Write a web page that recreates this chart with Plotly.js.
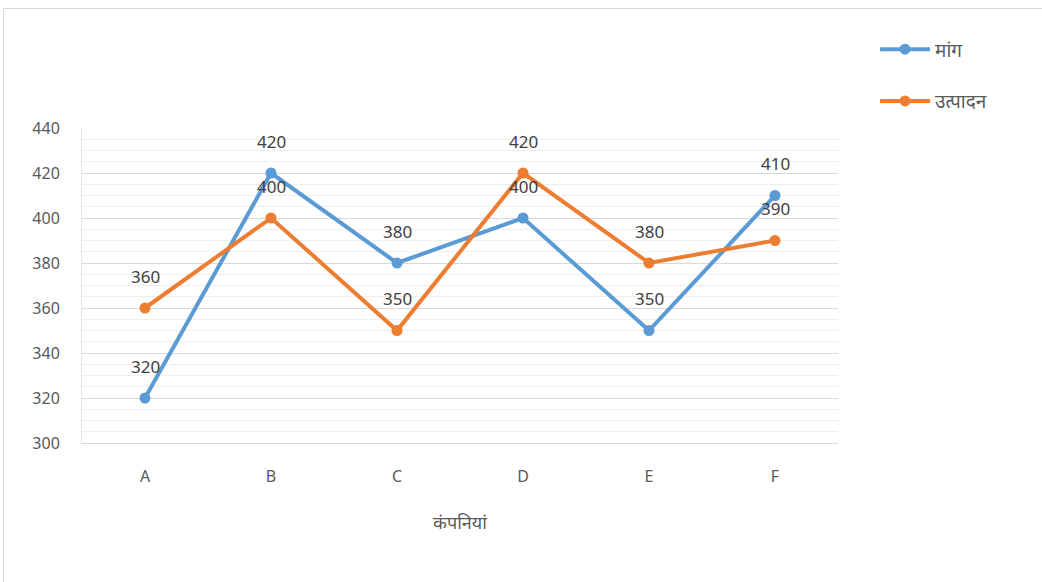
<!DOCTYPE html>
<html><head><meta charset="utf-8">
<script src="https://cdn.plot.ly/plotly-3.0.1.min.js"></script>
<style>
body{margin:0;padding:0;background:#fff;}
#frame{position:absolute;left:3px;top:8px;width:1045px;height:580px;border:1px solid #d9d9d9;box-sizing:border-box;}
#chart{position:absolute;left:0;top:0;width:1042px;height:582px;}
</style></head>
<body>
<div id="frame"></div>
<div id="chart"></div>
<script>
const categories = ['A','B','C','D','E','F'];
const demand = [320, 420, 380, 400, 350, 410];      // मांग
const production = [360, 400, 350, 420, 380, 390];  // उत्पादन
const seriesNames = ['मांग', 'उत्पादन'];
const yTicks = [300, 320, 340, 360, 380, 400, 420, 440];

const font = '"Noto Sans", "Noto Sans Devanagari", "Open Sans", sans-serif';
const blue = '#5B9BD5', orange = '#ED7D31';

const traces = [
  {x: categories, y: demand, name: seriesNames[0], type: 'scatter', mode: 'lines+markers',
   line: {color: blue, width: 4}, marker: {color: blue, size: 11}, legendgroup: 'a'},
  {x: categories, y: production, name: seriesNames[1], type: 'scatter', mode: 'lines+markers',
   line: {color: orange, width: 4}, marker: {color: orange, size: 11}, legendgroup: 'b'}
];

const annotations = [];
[demand, production].forEach(arr => {
  arr.forEach((v, i) => {
    annotations.push({x: categories[i], y: v, text: String(v), showarrow: false,
      yshift: 32, font: {family: font, size: 17, color: '#404040'}});
  });
});

const layout = {
  width: 1042, height: 582,
  margin: {l: 82, r: 204, t: 128, b: 139},
  paper_bgcolor: 'rgba(0,0,0,0)', plot_bgcolor: 'rgba(0,0,0,0)',
  font: {family: font, color: '#595959', size: 16},
  showlegend: true,
  legend: {x: 1.049, y: 1.31, xanchor: 'left', yanchor: 'top', traceorder: 'grouped',
    tracegroupgap: 24, itemwidth: 50, font: {family: font, size: 19, color: '#595959'},
    bgcolor: 'rgba(0,0,0,0)'},
  xaxis: {type: 'category', range: [-0.5, 5.5], showgrid: false, zeroline: false,
    showline: true, linecolor: '#d9d9d9', linewidth: 1, ticks: '', ticklabelstandoff: 19,
    fixedrange: true,
    title: {text: 'कंपनियां', standoff: 30, font: {family: font, size: 18, color: '#595959'}}},
  yaxis: {range: [300, 440], tickvals: yTicks, ticktext: yTicks.map(String), showgrid: true,
    gridcolor: '#d9d9d9', gridwidth: 1, zeroline: false, showline: true, linecolor: '#e6e6e6',
    ticks: '', ticklabelstandoff: 18,
    minor: {dtick: 5, showgrid: true, gridcolor: '#eeeeee', gridwidth: 1}},
  annotations: annotations
};

Plotly.newPlot('chart', traces, layout, {displayModeBar: false, staticPlot: true});
</script>
</body></html>
